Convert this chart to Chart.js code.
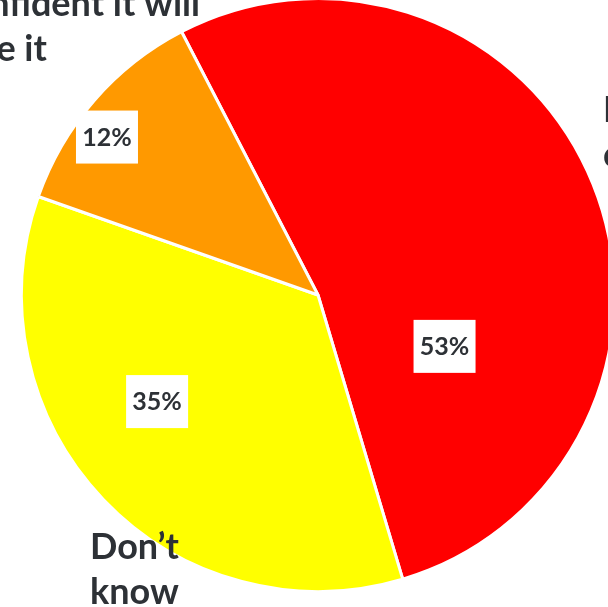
<!DOCTYPE html>
<html>
<head>
<meta charset="utf-8">
<script src="https://cdn.jsdelivr.net/npm/chart.js@4"></script>
<style>
  html, body { margin: 0; padding: 0; background: #fff; overflow: hidden; width: 608px; height: 607px; }
  #wrap { position: absolute; left: -32px; top: -55px; width: 700px; height: 700px; }
</style>
</head>
<body>
<div id="wrap"><canvas id="chart" width="700" height="700"></canvas></div>
<script>
// Slice data (clockwise from the start angle)
const categories = ["I\u2019m not confident it will achieve it", "Don\u2019t know", "I\u2019m confident it will achieve it"]
const values = [53, 35, 12]
const colors = ['#FF0000', '#FFFF00', '#FF9900']

// Outer label text, split into lines
const outerLabels = [["I\u2019m not", 'confident it will achieve it'], ["Don\u2019t", 'know'], ["I\u2019m confident it will", 'achieve it']]

const TEXT = '#2d3136'
const FONT = 'Lato, "Open Sans", sans-serif'

// where each value box / outer label sits (layout only)
const boxPlace = [{ r: 0.46, da: 43.9 }, { r: 0.65, da: 10.2 }, { r: 0.89, da: -4.1 }]
const outerPlace = [
  { dx: 285, dy: -173, align: 'left' },
  { dx: -228, dy: 264, align: 'left' },
  { dx: -118, dy: -279, align: 'right-first' },
]

const labelPlugin = {
  id: 'pieLabels',
  afterDatasetsDraw(chart) {
    const ctx = chart.ctx
    const meta = chart.getDatasetMeta(0)
    ctx.save()
    meta.data.forEach((arc, i) => {
      const p = arc.getProps(['x', 'y', 'startAngle', 'endAngle', 'outerRadius'], true)
      const mid = (p.startAngle + p.endAngle) / 2 + boxPlace[i].da * Math.PI / 180
      const r = p.outerRadius * boxPlace[i].r
      const bx = p.x + Math.cos(mid) * r
      const by = p.y + Math.sin(mid) * r

      // value box
      ctx.fillStyle = '#fff'
      ctx.fillRect(bx - 31, by - 26, 62, 53)
      ctx.fillStyle = TEXT
      ctx.font = 'bold 25px ' + FONT
      ctx.textAlign = 'center'
      ctx.textBaseline = 'middle'
      ctx.fillText(values[i] + '%', bx, by + 1)

      // category label outside the pie
      const o = outerPlace[i]
      const lines = outerLabels[i]
      ctx.font = 'bold 36px ' + FONT
      ctx.textBaseline = 'alphabetic'
      ctx.textAlign = 'left'
      let x0 = p.x + o.dx
      if (o.align === 'right-first') x0 -= ctx.measureText(lines[0]).width
      lines.forEach((ln, k) => {
        ctx.fillText(ln, x0, p.y + o.dy + k * 45)
      })
    })
    ctx.restore()
  }
}

new Chart(document.getElementById('chart'), {
  type: 'pie',
  data: {
    labels: categories,
    datasets: [{
      data: values,
      backgroundColor: colors,
      borderColor: '#ffffff',
      borderWidth: 3,
    }]
  },
  options: {
    responsive: false,
    animation: false,
    rotation: -27.4,
    layout: { padding: 52 },
    plugins: {
      legend: { display: false },
      tooltip: { enabled: false },
    },
  },
  plugins: [labelPlugin],
})
</script>
</body>
</html>
